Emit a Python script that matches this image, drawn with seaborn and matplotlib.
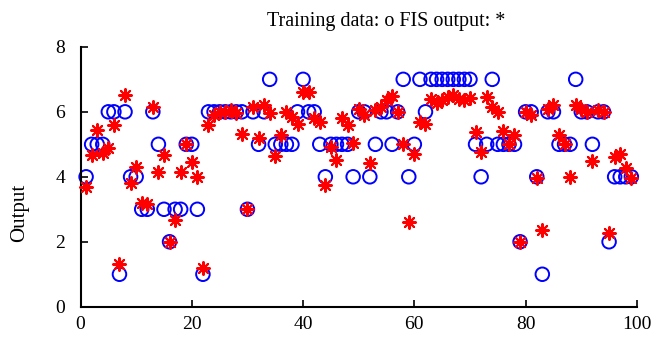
import matplotlib
matplotlib.use("Agg")
import matplotlib.pyplot as plt
import seaborn as sns
import numpy as np
import pandas as pd

x_vals = list(range(1, 100))
training = [4, 5, 5, 5, 6, 6, 1, 6, 4, 4,
            3, 3, 6, 5, 3, 2, 3, 3, 5, 5,
            3, 1, 6, 6, 6, 6, 6, 6, 6, 3,
            6, 5, 6, 7, 5, 5, 5, 5, 6, 7,
            6, 6, 5, 4, 5, 5, 5, 5, 4, 6,
            6, 4, 5, 6, 6, 5, 6, 7, 4, 5,
            7, 6, 7, 7, 7, 7, 7, 7, 7, 7,
            5, 4, 5, 7, 5, 5, 5, 5, 2, 6,
            6, 4, 1, 6, 6, 5, 5, 5, 7, 6,
            6, 5, 6, 6, 2, 4, 4, 4, 4]
fis = [3.70, 4.67, 5.44, 4.74, 4.90, 5.59, 1.31, 6.51, 3.82, 4.29,
       3.18, 3.15, 6.15, 4.15, 4.67, 2.00, 2.67, 4.15, 5.00, 4.46,
       4.00, 1.20, 5.60, 5.90, 6.00, 6.00, 6.05, 5.95, 5.33, 3.00,
       6.15, 5.20, 6.20, 5.95, 4.65, 5.30, 6.00, 5.85, 5.64, 6.60,
       6.60, 5.80, 5.70, 3.74, 4.92, 4.51, 5.80, 5.59, 5.05, 6.10,
       5.90, 4.44, 6.05, 6.15, 6.35, 6.48, 6.00, 5.00, 2.62, 4.70,
       5.70, 5.64, 6.41, 6.26, 6.36, 6.46, 6.51, 6.41, 6.36, 6.43,
       5.37, 4.77, 6.46, 6.15, 6.00, 5.40, 5.00, 5.30, 2.00, 6.00,
       5.90, 3.95, 2.36, 6.10, 6.20, 5.30, 5.00, 4.00, 6.20, 6.10,
       6.00, 4.50, 6.05, 6.00, 2.26, 4.60, 4.70, 4.27, 3.95]
x_ticks = [0, 20, 40, 60, 80, 100]
y_ticks = [0, 2, 4, 6, 8]

df = pd.DataFrame({"x": x_vals, "training": training, "fis": fis})

sns.set_style("white")
plt.rcParams["font.family"] = ["Liberation Serif", "DejaVu Serif"]
plt.rcParams["text.color"] = "black"
plt.rcParams["axes.labelcolor"] = "black"

fig = plt.figure(figsize=(6.6, 3.47), dpi=100)
ax = fig.add_axes([0.122, 0.116, 0.843, 0.749])

sns.scatterplot(data=df, x="x", y="training", ax=ax, marker="o", s=95,
                facecolors="none", edgecolor="#0000ff", linewidth=1.4, zorder=2)
sns.scatterplot(data=df, x="x", y="fis", ax=ax, marker=(8, 2, 0), s=85,
                color="#ff0000", edgecolor="#ff0000", linewidth=1.5, zorder=3)

ax.set_xlim(0, 100)
ax.set_ylim(0, 8)
ax.set_xticks(x_ticks)
ax.set_yticks(y_ticks)
ax.set_xlabel("")
ax.set_ylabel("Output", fontsize=15, color="black", labelpad=16)
ax.yaxis.set_label_coords(-0.093, 0.36)
ax.set_title("Training data: o FIS output: *", fontsize=14.5, pad=15,
             color="black", x=0.549)

for side in ["top", "right"]:
    ax.spines[side].set_visible(False)
for side in ["left", "bottom"]:
    ax.spines[side].set_color("black")
    ax.spines[side].set_linewidth(1.5)
ax.tick_params(axis="both", direction="in", length=5, width=1.2,
               labelsize=14, colors="black", left=True, bottom=True)
ax.tick_params(axis="x", pad=7)
ax.tick_params(axis="y", pad=11)
for c in ax.collections:
    c.set_clip_on(False)

fig.savefig("out.png", dpi=100)
